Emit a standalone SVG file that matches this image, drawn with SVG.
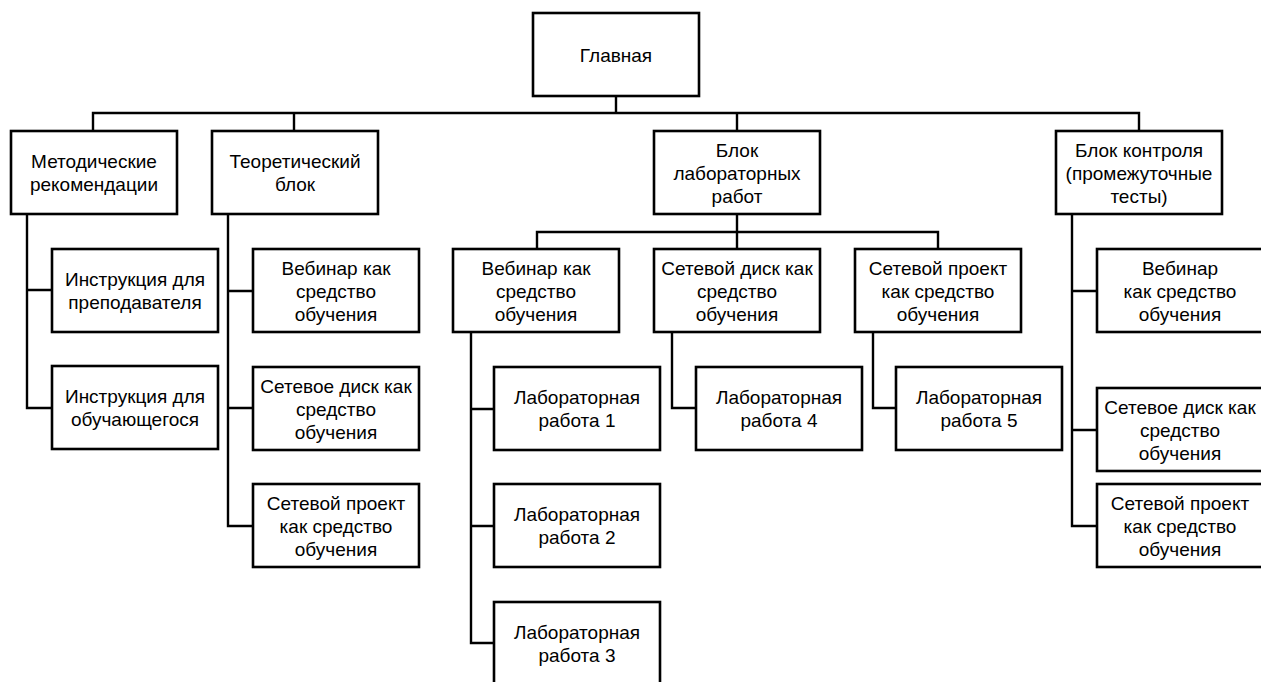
<svg xmlns="http://www.w3.org/2000/svg" width="1261" height="682" viewBox="0 0 1261 682">
<style>
.box{fill:#fff;stroke:#000;stroke-width:2.6}
.c{fill:none;stroke:#000;stroke-width:2.4;stroke-linejoin:miter;stroke-linecap:square}
text{font-family:"Liberation Sans",Arial,sans-serif;font-size:19px;fill:#000;text-anchor:middle}
</style>
<rect width="1261" height="682" fill="#fff"/>
<g id="connectors">
<path class="c" d="M616,96V113M93,113H1139M93,113V131M294,113V131M737,113V131M1139,113V131"/>
<path class="c" d="M27,214V408H52M27,290H52"/>
<path class="c" d="M228,214V526H253M228,291H253M228,408H253"/>
<path class="c" d="M737,214V232M537,232H938M537,232V249M737,232V249M938,232V249"/>
<path class="c" d="M471,332V643H494M471,409H494M471,526H494"/>
<path class="c" d="M672,332V408H696"/>
<path class="c" d="M873,332V408H896"/>
<path class="c" d="M1072,214V526H1097M1072,291H1097M1072,430H1097"/>
</g>
<g id="main"><rect class="box" x="533" y="13" width="166" height="83"/><text x="616" y="62">Главная</text></g>
<g id="met"><rect class="box" x="11" y="131" width="166" height="83"/><text x="94" y="168">Методические</text><text x="94" y="191">рекомендации</text></g>
<g id="theor"><rect class="box" x="212" y="131" width="166" height="83"/><text x="295" y="168">Теоретический</text><text x="295" y="191">блок</text></g>
<g id="lab"><rect class="box" x="654" y="131" width="166" height="83"/><text x="737" y="157">Блок</text><text x="737" y="180">лабораторных</text><text x="737" y="203">работ</text></g>
<g id="ctrl"><rect class="box" x="1056" y="131" width="166" height="83"/><text x="1139" y="157">Блок контроля</text><text x="1139" y="180">(промежуточные</text><text x="1139" y="203">тесты)</text></g>
<g id="m1"><rect class="box" x="52" y="249" width="166" height="83"/><text x="135" y="286">Инструкция для</text><text x="135" y="309">преподавателя</text></g>
<g id="m2"><rect class="box" x="52" y="366" width="166" height="83"/><text x="135" y="403">Инструкция для</text><text x="135" y="426">обучающегося</text></g>
<g id="t1"><rect class="box" x="253" y="249" width="166" height="83"/><text x="336" y="275">Вебинар как</text><text x="336" y="298">средство</text><text x="336" y="321">обучения</text></g>
<g id="t2"><rect class="box" x="253" y="367" width="166" height="83"/><text x="336" y="393">Сетевое диск как</text><text x="336" y="416">средство</text><text x="336" y="439">обучения</text></g>
<g id="t3"><rect class="box" x="253" y="484" width="166" height="83"/><text x="336" y="510">Сетевой проект</text><text x="336" y="533">как средство</text><text x="336" y="556">обучения</text></g>
<g id="l1"><rect class="box" x="453" y="249" width="166" height="83"/><text x="536" y="275">Вебинар как</text><text x="536" y="298">средство</text><text x="536" y="321">обучения</text></g>
<g id="l2"><rect class="box" x="654" y="249" width="166" height="83"/><text x="737" y="275">Сетевой диск как</text><text x="737" y="298">средство</text><text x="737" y="321">обучения</text></g>
<g id="l3"><rect class="box" x="855" y="249" width="166" height="83"/><text x="938" y="275">Сетевой проект</text><text x="938" y="298">как средство</text><text x="938" y="321">обучения</text></g>
<g id="lr1"><rect class="box" x="494" y="367" width="166" height="83"/><text x="577" y="404">Лабораторная</text><text x="577" y="427">работа 1</text></g>
<g id="lr2"><rect class="box" x="494" y="484" width="166" height="83"/><text x="577" y="521">Лабораторная</text><text x="577" y="544">работа 2</text></g>
<g id="lr3"><rect class="box" x="494" y="602" width="166" height="83"/><text x="577" y="639">Лабораторная</text><text x="577" y="662">работа 3</text></g>
<g id="lr4"><rect class="box" x="696" y="367" width="166" height="83"/><text x="779" y="404">Лабораторная</text><text x="779" y="427">работа 4</text></g>
<g id="lr5"><rect class="box" x="896" y="367" width="166" height="83"/><text x="979" y="404">Лабораторная</text><text x="979" y="427">работа 5</text></g>
<g id="c1"><rect class="box" x="1097" y="249" width="166" height="83"/><text x="1180" y="275">Вебинар</text><text x="1180" y="298">как средство</text><text x="1180" y="321">обучения</text></g>
<g id="c2"><rect class="box" x="1097" y="388" width="166" height="83"/><text x="1180" y="414">Сетевое диск как</text><text x="1180" y="437">средство</text><text x="1180" y="460">обучения</text></g>
<g id="c3"><rect class="box" x="1097" y="484" width="166" height="83"/><text x="1180" y="510">Сетевой проект</text><text x="1180" y="533">как средство</text><text x="1180" y="556">обучения</text></g>
</svg>
